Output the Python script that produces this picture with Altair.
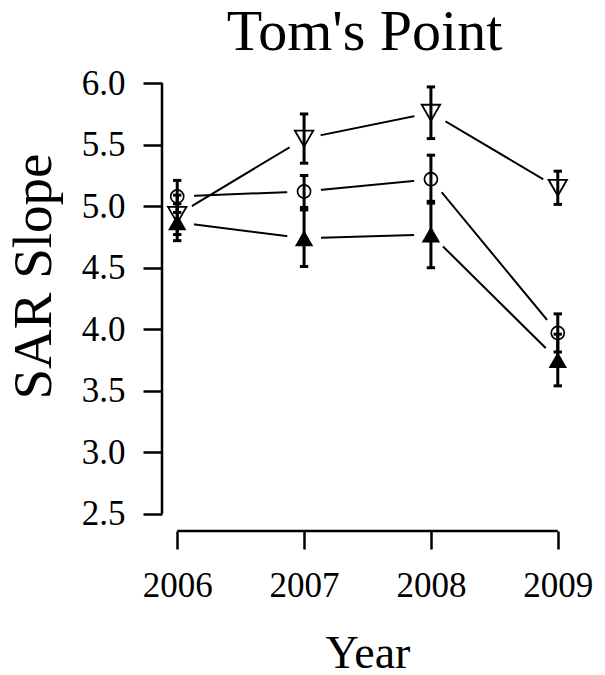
import altair as alt
import pandas as pd

# Survey years
years = [2006, 2007, 2008, 2009]

# Mean SAR slope and standard error for each treatment
open_triangle_mean = [4.93, 5.55, 5.76, 5.15]
open_triangle_se = [0.16, 0.20, 0.21, 0.135]

open_circle_mean = [5.08, 5.12, 5.22, 3.97]
open_circle_se = [0.13, 0.13, 0.195, 0.155]

filled_triangle_mean = [4.87, 4.74, 4.77, 3.75]
filled_triangle_se = [0.15, 0.23, 0.27, 0.21]

y_ticks = [2.5, 3.0, 3.5, 4.0, 4.5, 5.0, 5.5, 6.0]

series = {
    "open_triangle": (open_triangle_mean, open_triangle_se),
    "open_circle": (open_circle_mean, open_circle_se),
    "filled_triangle": (filled_triangle_mean, filled_triangle_se),
}

rows = []
for name, (means, ses) in series.items():
    for yr, m, s in zip(years, means, ses):
        rows.append({"series": name, "year": yr, "mean": m,
                     "lo": round(m - s, 4), "hi": round(m + s, 4)})
df = pd.DataFrame(rows)

FONT = "Liberation Serif"
W, H = 411, 465

# R-style 4% axis expansion around the data/tick ranges
x_pad = (years[-1] - years[0]) * 0.04
y_pad = (y_ticks[-1] - y_ticks[0]) * 0.04
x_scale = alt.Scale(domain=[years[0] - x_pad, years[-1] + x_pad], nice=False, zero=False)
y_scale = alt.Scale(domain=[y_ticks[0] - y_pad, y_ticks[-1] + y_pad], nice=False, zero=False)

x_axis = alt.Axis(
    values=years, format="d", grid=False, domain=False,
    tickSize=18, tickWidth=2.5, tickColor="black",
    labelFont=FONT, labelFontSize=35, labelColor="black",
    labelBaseline="alphabetic", labelPadding=47, labelFlush=False,
    title="Year", titleFont=FONT, titleFontSize=46, titleFontWeight="normal",
    titleColor="black", titleBaseline="alphabetic", titleX=W / 2, titleY=136,
)
y_axis = alt.Axis(
    values=y_ticks, format=".1f", grid=False, domain=False,
    tickSize=19, tickWidth=2.5, tickColor="black",
    labelFont=FONT, labelFontSize=35, labelColor="black",
    labelBaseline="middle", labelPadding=18, labelFlush=False,
    title="SAR Slope", titleFont=FONT, titleFontSize=55, titleFontWeight="normal",
    titleColor="black", titleAngle=270, titleAlign="center",
    titleBaseline="alphabetic", titleX=-112, titleY=210,
)


def xq(field):
    return alt.X(field, scale=x_scale, axis=x_axis)


def yq(field):
    return alt.Y(field, scale=y_scale, axis=y_axis)


base = alt.Chart(df)

# Connecting lines
lines = base.mark_line(color="black", strokeWidth=2).encode(
    x=xq("year:Q"), y=yq("mean:Q"), detail="series:N")

# White discs leave the gap between lines and points
gaps = base.mark_point(shape="circle", filled=True, color="white",
                       opacity=1, size=1150, strokeWidth=0).encode(
    x=xq("year:Q"), y=yq("mean:Q"))

# Error bars with caps
bars = base.mark_rule(color="black", strokeWidth=3).encode(
    x=xq("year:Q"), y=yq("lo:Q"), y2="hi:Q")
caps = base.transform_fold(["lo", "hi"], as_=["end", "val"]).mark_point(
    shape="M-1,0L1,0", filled=False, color="black", strokeWidth=3, size=70, opacity=1
).encode(x=xq("year:Q"), y=yq("val:Q"))

# Point symbols
pt_open_tri = base.transform_filter(alt.datum.series == "open_triangle").mark_point(
    shape="triangle-down", filled=False, color="black", strokeWidth=1.8, size=340, opacity=1
).encode(x=xq("year:Q"), y=yq("mean:Q"))
pt_open_circ = base.transform_filter(alt.datum.series == "open_circle").mark_point(
    shape="circle", filled=False, color="black", strokeWidth=1.7, size=170, opacity=1
).encode(x=xq("year:Q"), y=yq("mean:Q"))
pt_filled_tri = base.transform_filter(alt.datum.series == "filled_triangle").mark_point(
    shape="triangle-up", filled=True, color="black", size=340, opacity=1
).encode(x=xq("year:Q"), y=yq("mean:Q"))

# Axis lines spanning only the tick range
y_line = alt.Chart(pd.DataFrame({"lo": [y_ticks[0]], "hi": [y_ticks[-1]]})).mark_rule(
    color="black", strokeWidth=2.5
).encode(x=alt.value(0), y=yq("lo:Q"), y2="hi:Q")
x_line = alt.Chart(pd.DataFrame({"lo": [years[0]], "hi": [years[-1]]})).mark_rule(
    color="black", strokeWidth=2.5
).encode(y=alt.value(H), x=xq("lo:Q"), x2="hi:Q")

chart = alt.layer(
    lines, gaps, bars, caps, pt_open_tri, pt_open_circ, pt_filled_tri, y_line, x_line
).properties(
    width=W, height=H,
    autosize="none",
    padding={"left": 162, "top": 66, "right": 32, "bottom": 144},
    title=alt.Title("Tom's Point", font=FONT, fontSize=58, fontWeight="normal",
                    color="black", anchor="middle", frame="group",
                    offset=4, dx=-3),
    background="white",
).configure_view(strokeWidth=0)

chart.save("out.html", embed_options={"renderer": "svg", "actions": False})
